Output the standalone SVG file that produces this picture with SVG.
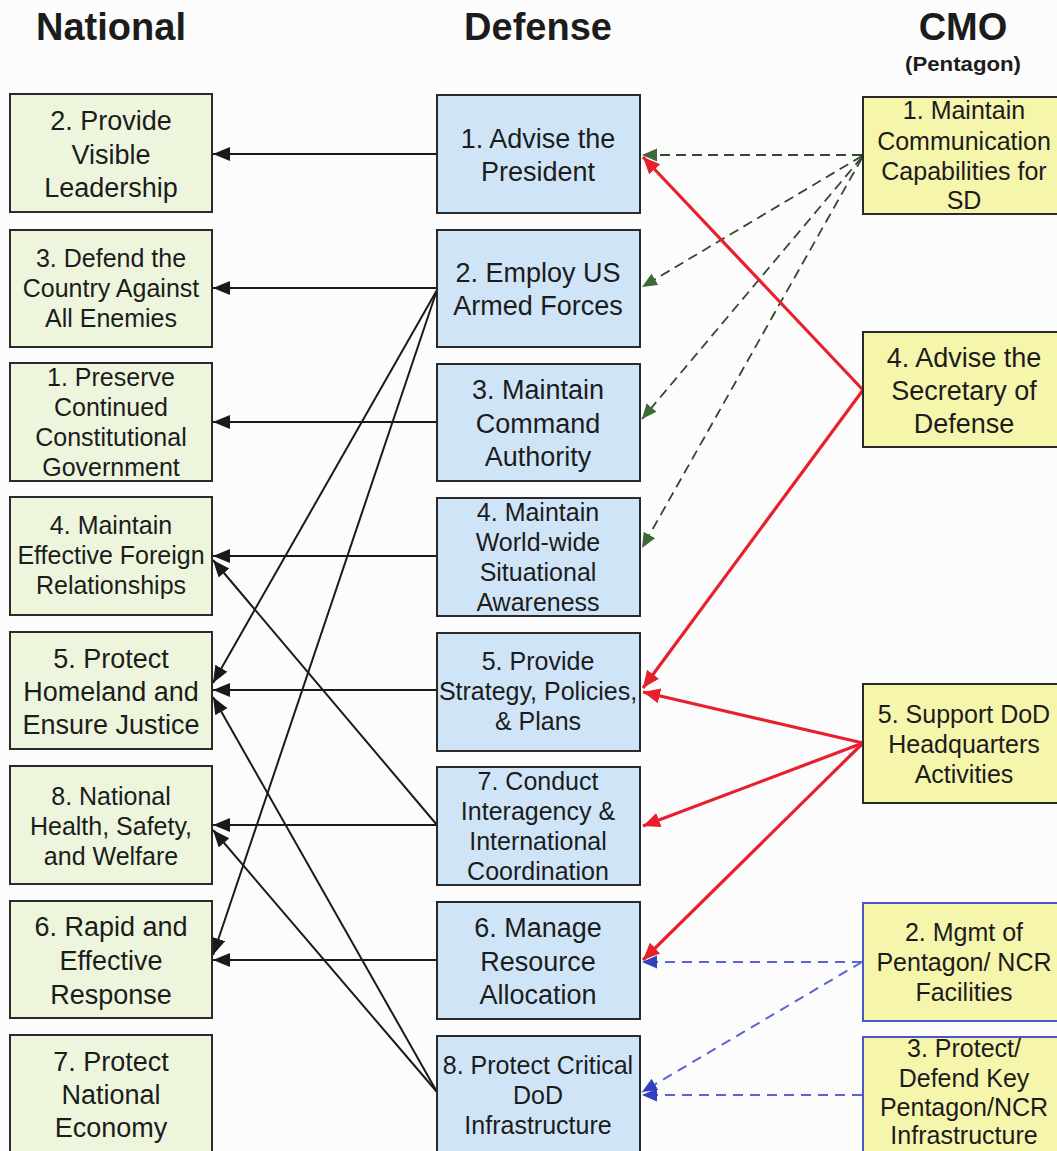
<svg xmlns="http://www.w3.org/2000/svg" width="1057" height="1151" viewBox="0 0 1057 1151">
<style>
text{font-family:"Liberation Sans",Arial,sans-serif;fill:#1c1c1c;text-anchor:middle}
.h{font-weight:bold;font-size:38px}
.hs{font-weight:bold;font-size:20px}
.L{font-size:27px}
.S{font-size:25px}
.nb{fill:#edf6dc;stroke:#2a2a2a;stroke-width:2}
.db{fill:#cfe5f7;stroke:#2a2a2a;stroke-width:2}
.cb{fill:#f6f5ac;stroke:#2a2a2a;stroke-width:2}
.cbb{fill:#f6f5ac;stroke:#4c56c8;stroke-width:2}
.k{stroke:#1a1a1a;stroke-width:2;fill:none}
.g{stroke:#34472f;stroke-width:1.8;stroke-dasharray:10 6;fill:none}
.r{stroke:#e8202c;stroke-width:3.2;fill:none}
.b{stroke:#5a64d4;stroke-width:2;stroke-dasharray:10 7;fill:none}
</style>
<defs>
<marker id="ak" markerUnits="userSpaceOnUse" markerWidth="18" markerHeight="16" refX="17" refY="7" orient="auto"><path d="M0,0 L17,7 L0,14 z" fill="#1a1a1a"/></marker>
<marker id="ag" markerUnits="userSpaceOnUse" markerWidth="16" markerHeight="14" refX="15" refY="6.5" orient="auto"><path d="M0,0 L15,6.5 L0,13 z" fill="#3d6a36"/></marker>
<marker id="ar" markerUnits="userSpaceOnUse" markerWidth="18" markerHeight="16" refX="17" refY="7.5" orient="auto"><path d="M0,0 L17,7.5 L0,15 z" fill="#e8202c"/></marker>
<marker id="ab" markerUnits="userSpaceOnUse" markerWidth="16" markerHeight="14" refX="15" refY="6.5" orient="auto"><path d="M0,0 L15,6.5 L0,13 z" fill="#3340c0"/></marker>
</defs>
<rect width="1057" height="1151" fill="#fcfcfc"/>

<g id="headers">
<text class="h" x="111" y="40">National</text>
<text class="h" x="538" y="40">Defense</text>
<text class="h" x="963" y="40">CMO</text>
<text class="hs" x="963" y="71" textLength="116" lengthAdjust="spacingAndGlyphs">(Pentagon)</text>
</g>

<g id="connectors">
<line class="k" x1="437" y1="154" x2="213" y2="154" marker-end="url(#ak)"/>
<line class="k" x1="437" y1="288" x2="213" y2="288" marker-end="url(#ak)"/>
<line class="k" x1="437" y1="422" x2="213" y2="422" marker-end="url(#ak)"/>
<line class="k" x1="437" y1="556" x2="213" y2="556" marker-end="url(#ak)"/>
<line class="k" x1="437" y1="690" x2="213" y2="690" marker-end="url(#ak)"/>
<line class="k" x1="437" y1="825" x2="213" y2="825" marker-end="url(#ak)"/>
<line class="k" x1="437" y1="960" x2="213" y2="960" marker-end="url(#ak)"/>
<line class="k" x1="437" y1="290" x2="213" y2="683" marker-end="url(#ak)"/>
<line class="k" x1="437" y1="290" x2="213" y2="955" marker-end="url(#ak)"/>
<line class="k" x1="437" y1="825" x2="213" y2="560" marker-end="url(#ak)"/>
<line class="k" x1="437" y1="1092" x2="213" y2="697" marker-end="url(#ak)"/>
<line class="k" x1="437" y1="1092" x2="213" y2="830" marker-end="url(#ak)"/>

<line class="g" x1="862" y1="155" x2="642" y2="155" marker-end="url(#ag)"/>
<line class="g" x1="862" y1="156" x2="642" y2="287" marker-end="url(#ag)"/>
<line class="g" x1="862" y1="157" x2="642" y2="419" marker-end="url(#ag)"/>
<line class="g" x1="862" y1="158" x2="642" y2="548" marker-end="url(#ag)"/>

<line class="r" x1="863" y1="390" x2="643" y2="157" marker-end="url(#ar)"/>
<line class="r" x1="863" y1="390" x2="643" y2="688" marker-end="url(#ar)"/>
<line class="r" x1="863" y1="743" x2="643" y2="692" marker-end="url(#ar)"/>
<line class="r" x1="863" y1="743" x2="643" y2="826" marker-end="url(#ar)"/>
<line class="r" x1="863" y1="743" x2="643" y2="960" marker-end="url(#ar)"/>

<line class="b" x1="862" y1="962" x2="642" y2="962" marker-end="url(#ab)"/>
<line class="b" x1="862" y1="962" x2="642" y2="1092" marker-end="url(#ab)"/>
<line class="b" x1="862" y1="1095" x2="642" y2="1095" marker-end="url(#ab)"/>
</g>

<g id="nat2"><rect class="nb" x="10" y="94" width="202" height="118"/>
<text class="L" x="111" y="130">2. Provide</text><text class="L" x="111" y="164">Visible</text><text class="L" x="111" y="197">Leadership</text></g>
<g id="nat3"><rect class="nb" x="10" y="230" width="202" height="117"/>
<text class="S" x="111" y="267">3. Defend the</text><text class="S" x="111" y="297">Country Against</text><text class="S" x="111" y="327">All Enemies</text></g>
<g id="nat1"><rect class="nb" x="10" y="363" width="202" height="118"/>
<text class="S" x="111" y="386">1. Preserve</text><text class="S" x="111" y="416">Continued</text><text class="S" x="111" y="446">Constitutional</text><text class="S" x="111" y="476">Government</text></g>
<g id="nat4"><rect class="nb" x="10" y="497" width="202" height="118"/>
<text class="S" x="111" y="534">4. Maintain</text><text class="S" x="111" y="564">Effective Foreign</text><text class="S" x="111" y="594">Relationships</text></g>
<g id="nat5"><rect class="nb" x="10" y="632" width="202" height="117"/>
<text class="L" x="111" y="668">5. Protect</text><text class="L" x="111" y="701">Homeland and</text><text class="L" x="111" y="734">Ensure Justice</text></g>
<g id="nat8"><rect class="nb" x="10" y="766" width="202" height="118"/>
<text class="S" x="111" y="805">8. National</text><text class="S" x="111" y="835">Health, Safety,</text><text class="S" x="111" y="865">and Welfare</text></g>
<g id="nat6"><rect class="nb" x="10" y="901" width="202" height="117"/>
<text class="L" x="111" y="936">6. Rapid and</text><text class="L" x="111" y="970">Effective</text><text class="L" x="111" y="1004">Response</text></g>
<g id="nat7"><rect class="nb" x="10" y="1035" width="202" height="125"/>
<text class="L" x="111" y="1071">7. Protect</text><text class="L" x="111" y="1104">National</text><text class="L" x="111" y="1137">Economy</text></g>

<g id="def1"><rect class="db" x="437" y="95" width="203" height="118"/>
<text class="L" x="538" y="148">1. Advise the</text><text class="L" x="538" y="181">President</text></g>
<g id="def2"><rect class="db" x="437" y="230" width="203" height="117"/>
<text class="L" x="538" y="282">2. Employ US</text><text class="L" x="538" y="315">Armed Forces</text></g>
<g id="def3"><rect class="db" x="437" y="364" width="203" height="117"/>
<text class="L" x="538" y="399">3. Maintain</text><text class="L" x="538" y="433">Command</text><text class="L" x="538" y="466">Authority</text></g>
<g id="def4"><rect class="db" x="437" y="498" width="203" height="118"/>
<text class="S" x="538" y="521">4. Maintain</text><text class="S" x="538" y="551">World-wide</text><text class="S" x="538" y="581">Situational</text><text class="S" x="538" y="611">Awareness</text></g>
<g id="def5"><rect class="db" x="437" y="633" width="203" height="118"/>
<text class="S" x="538" y="670">5. Provide</text><text class="S" x="538" y="700">Strategy, Policies,</text><text class="S" x="538" y="730">&amp; Plans</text></g>
<g id="def7"><rect class="db" x="437" y="767" width="203" height="118"/>
<text class="S" x="538" y="790">7. Conduct</text><text class="S" x="538" y="820">Interagency &amp;</text><text class="S" x="538" y="850">International</text><text class="S" x="538" y="880">Coordination</text></g>
<g id="def6"><rect class="db" x="437" y="902" width="203" height="117"/>
<text class="L" x="538" y="937">6. Manage</text><text class="L" x="538" y="971">Resource</text><text class="L" x="538" y="1004">Allocation</text></g>
<g id="def8"><rect class="db" x="437" y="1036" width="203" height="124"/>
<text class="S" x="538" y="1074">8. Protect Critical</text><text class="S" x="538" y="1104">DoD</text><text class="S" x="538" y="1134">Infrastructure</text></g>

<g id="cmo1"><rect class="cb" x="863" y="97" width="210" height="117"/>
<text class="S" x="964" y="119">1. Maintain</text><text class="S" x="964" y="150">Communication</text><text class="S" x="964" y="180">Capabilities for</text><text class="S" x="964" y="209">SD</text></g>
<g id="cmo4"><rect class="cb" x="863" y="332" width="210" height="115"/>
<text class="L" x="964" y="367">4. Advise the</text><text class="L" x="964" y="400">Secretary of</text><text class="L" x="964" y="433">Defense</text></g>
<g id="cmo5"><rect class="cb" x="863" y="684" width="210" height="119"/>
<text class="S" x="964" y="723">5. Support DoD</text><text class="S" x="964" y="753">Headquarters</text><text class="S" x="964" y="783">Activities</text></g>
<g id="cmo2"><rect class="cbb" x="863" y="903" width="210" height="118"/>
<text class="S" x="964" y="941">2. Mgmt of</text><text class="S" x="964" y="971">Pentagon/ NCR</text><text class="S" x="964" y="1001">Facilities</text></g>
<g id="cmo3"><rect class="cbb" x="863" y="1037" width="210" height="123"/>
<text class="S" x="964" y="1057">3. Protect/</text><text class="S" x="964" y="1087">Defend Key</text><text class="S" x="964" y="1116">Pentagon/NCR</text><text class="S" x="964" y="1144">Infrastructure</text></g>
</svg>
